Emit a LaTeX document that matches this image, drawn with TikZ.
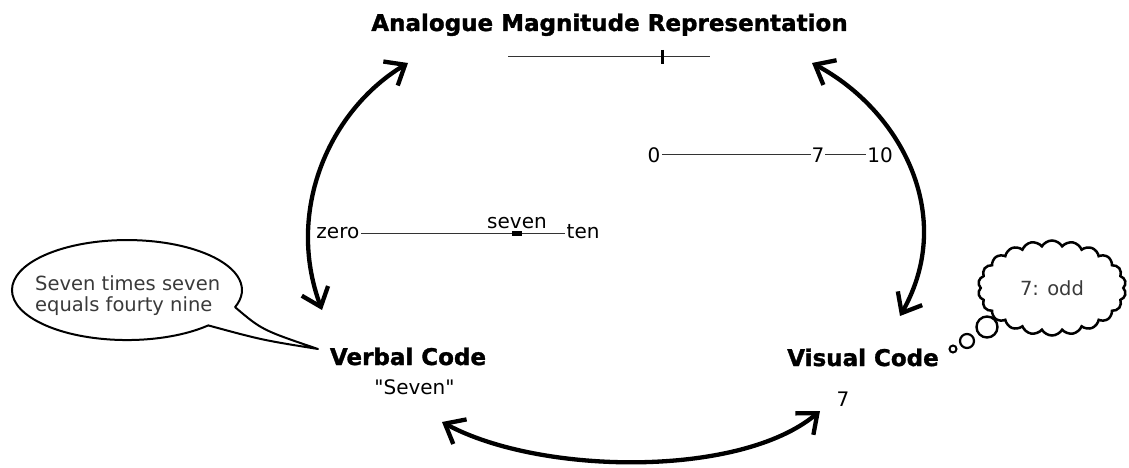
\documentclass[tikz,border=0pt]{standalone}
\usepackage{fontspec}
\setmainfont{DejaVu Sans}
\newfontfamily\heavyfont{DejaVu Sans}[BoldFeatures={FakeBold=1.4}]
\usetikzlibrary{arrows.meta,shapes.symbols}
\definecolor{softtext}{HTML}{3A3A3A}
\begin{document}
\begin{tikzpicture}[x=1pt,y=-1pt,
  head/.style={font=\fontsize{23}{27}\selectfont\heavyfont\bfseries, inner sep=0pt, anchor=base},
  lbl/.style={font=\fontsize{20}{24}\selectfont, inner sep=0pt, anchor=base},
  scl/.style={font=\fontsize{20}{24}\selectfont, inner ysep=0pt, inner xsep=1.5pt, anchor=base, text depth=0pt},
  soft/.style={font=\fontsize{19.5}{21}\selectfont, text=softtext},
  arr/.style={line width=4.3pt, {Straight Barb[length=17pt,width=28pt]}-{Straight Barb[length=17pt,width=28pt]}},
  thin/.style={line width=1pt, draw=black!80},
  bubble/.style={line width=2pt, draw=black, fill=white, line join=round},
]
\useasboundingbox (0,0) rectangle (1129,468);

% titles
\node[head] (amr) at (609.5,31) {Analogue Magnitude Representation};
\node[head] (verbal) at (408,365) {Verbal Code};
\node[head] (visual) at (863,366) {Visual Code};
\node[lbl] (sevenq) at (414.5,394) {\textquotedbl Seven\textquotedbl};
\node[lbl] (seven7) at (843,406) {7};

% analogue line
\coordinate (al) at (508,57);
\coordinate (ar) at (710,57);
\draw[thin] (al) -- (ar);
\draw[line width=3pt] (662,50) -- (662,64);

% verbal scale
\node[scl, text height=10pt, anchor=base east] (zero) at (361,238) {zero};
\node[scl, text height=10pt, anchor=base west] (ten) at (565,238) {ten};
\draw[thin] (zero.east) -- (ten.west);
\fill (512,231) rectangle (522,236);
\node[lbl] (sevenw) at (517,228) {seven};

% visual scale
\node[scl, text height=16pt] (d0) at (654,162) {0};
\node[scl, text height=16pt, inner xsep=0.5pt] (d7) at (818,162) {7};
\node[scl, text height=16pt] (d10) at (880,162) {10};
\draw[thin] (d0.east) -- (d7.west);
\draw[thin] (d7.east) -- (d10.west);

% arrows
\coordinate (lb) at (322,310);
\coordinate (lt) at (408,63);
\coordinate (rb) at (900,316);
\coordinate (rt) at (812,63);
\coordinate (bl) at (442,422);
\coordinate (br) at (820,411);
\draw[arr] (lb) .. controls (285,210) and (330,110) .. (lt);
\draw[arr] (rb) .. controls (957,215) and (900,110) .. (rt);
\draw[arr] (bl) .. controls (540,475) and (740,478) .. (br);

% speech bubble
\coordinate (tail) at (318,349);
\draw[bubble] (208.3,325.4) arc[start angle=45,end angle=380,x radius=115,y radius=50]
  .. controls (262,330) .. (tail) .. controls (262,340) .. cycle;
\node[soft, align=left, anchor=north west, inner sep=0pt] (say) at (35,275) {Seven times seven\\equals fourty nine};

% thought cloud
\node[cloud, draw, line width=2.5pt, cloud puffs=22, cloud puff arc=120, aspect=1.55,
      minimum width=148, minimum height=95, inner sep=0pt, soft] (cloud) at (1052,288) {7: odd};
\draw[line width=2.4pt] (987,327) circle[radius=10.5];
\draw[line width=2.2pt] (967,341) circle[radius=7];
\draw[line width=2pt] (953,349) circle[radius=3.5];
\end{tikzpicture}
\end{document}
